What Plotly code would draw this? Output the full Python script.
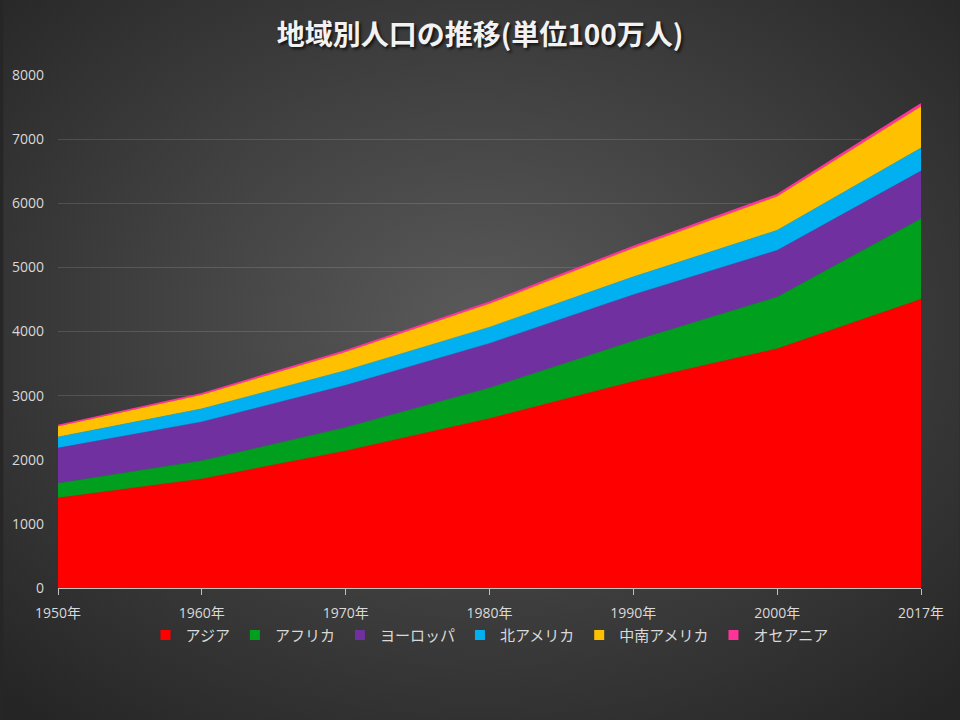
import base64
import plotly.graph_objects as go

years = ["1950年", "1960年", "1970年", "1980年", "1990年", "2000年", "2017年"]
asia = [1404, 1700, 2138, 2642, 3221, 3730, 4504]
africa = [229, 285, 366, 478, 630, 808, 1256]
europe = [549, 605, 657, 694, 722, 727, 742]
north_america = [172, 204, 231, 254, 280, 313, 361]
latin_america = [168, 220, 288, 364, 446, 526, 646]
oceania = [13, 16, 20, 23, 27, 31, 41]

series = [
    ("アジア", asia, "#FF0000"),
    ("アフリカ", africa, "#00A01E"),
    ("ヨーロッパ", europe, "#7030A0"),
    ("北アメリカ", north_america, "#00B0F0"),
    ("中南アメリカ", latin_america, "#FFC000"),
    ("オセアニア", oceania, "#FF3399"),
]

W, H = 960, 720
ML, MR, MT, MB = 55, 39, 75, 132
PW, PH = W - ML - MR, H - MT - MB

svg = f'''<svg xmlns="http://www.w3.org/2000/svg" width="{W}" height="{H}" viewBox="0 0 {W} {H}" preserveAspectRatio="none">
<defs><radialGradient id="g" cx="50%" cy="45%" r="72%">
<stop offset="0%" stop-color="#5a5a5a"/><stop offset="100%" stop-color="#252525"/></radialGradient></defs>
<rect width="{W}" height="{H}" fill="url(#g)"/></svg>'''
bg_uri = "data:image/svg+xml;base64," + base64.b64encode(svg.encode()).decode()

fig = go.Figure()
for name, vals, color in series:
    fig.add_trace(go.Scatter(
        x=years, y=vals, name=name, stackgroup="one", mode="lines",
        line=dict(width=0.5 if name != "オセアニア" else 1.5, color=color),
        fillcolor=color, showlegend=False,
    ))
for name, vals, color in series:
    fig.add_trace(go.Scatter(
        x=[None], y=[None], name=name, mode="markers",
        marker=dict(symbol="square", size=10, color=color), showlegend=True,
    ))

font_family = "Open Sans, Noto Sans CJK JP"
fig.update_layout(
    width=W, height=H,
    margin=dict(l=ML, r=MR, t=MT, b=MB),
    paper_bgcolor="#262626",
    plot_bgcolor="rgba(0,0,0,0)",
    title=dict(text="<b>地域別人口の推移(単位100万人)</b>", x=0.5, xanchor="center",
               y=1 - 35 / H, yanchor="middle", yref="container",
               font=dict(family="Noto Sans CJK JP", size=28, color="#F2F2F2",
                         shadow="2px 2px 3px rgba(0,0,0,0.7)")),
    font=dict(family=font_family, color="#D9D9D9", size=14),
    showlegend=True,
    legend=dict(orientation="h", x=0.5, xanchor="center", y=-0.06, yanchor="top",
                font=dict(family="Noto Sans CJK JP", size=15, color="#D9D9D9"), traceorder="normal",
                bgcolor="rgba(0,0,0,0)", itemwidth=30),
    images=[dict(source=bg_uri, xref="paper", yref="paper",
                 x=-ML / PW, y=1 + MT / PH, sizex=W / PW, sizey=H / PH,
                 xanchor="left", yanchor="top", sizing="stretch", layer="below")],
)
fig.update_xaxes(type="category", range=[0, 6], showgrid=False, showline=True,
                 linecolor="#BFBFBF", linewidth=1, ticks="outside", ticklen=6,
                 tickcolor="#BFBFBF", tickfont=dict(size=14, color="#D9D9D9"), ticklabelstandoff=6)
fig.update_yaxes(range=[0, 8000], dtick=1000, showgrid=True, gridcolor="rgba(255,255,255,0.13)",
                 gridwidth=1, zeroline=False, showline=False, tickfont=dict(size=14, color="#D9D9D9"),
                 ticklabelstandoff=13)

fig.write_html("out.html", config={"displayModeBar": False},
               post_script="document.body.style.margin='0';document.body.style.overflow='hidden';")
